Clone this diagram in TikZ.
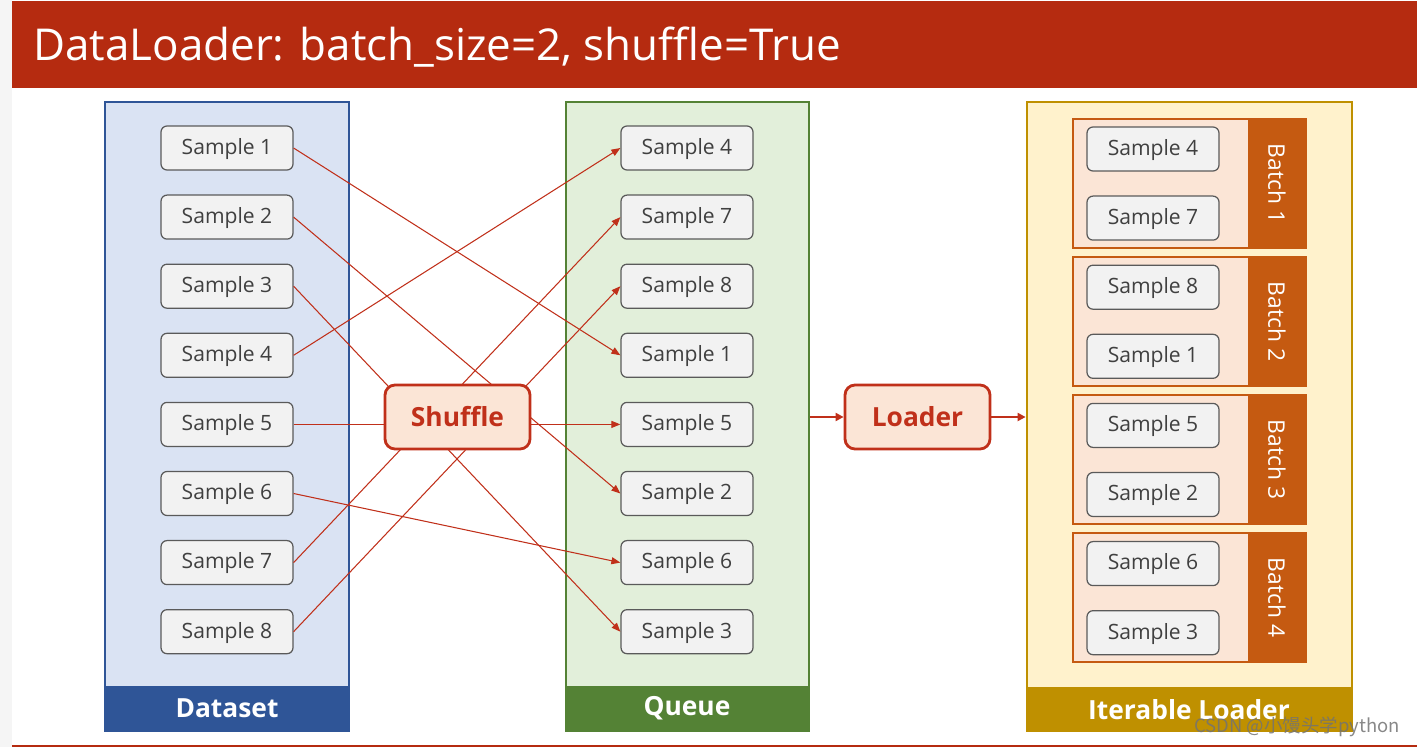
\documentclass[tikz,border=0pt]{standalone}
\usepackage{fontspec}
\setmainfont{Open Sans}
\newfontfamily\cjkfont{Noto Sans CJK SC}
\usetikzlibrary{arrows.meta}
\definecolor{titlered}{HTML}{B52B10}
\definecolor{linkred}{HTML}{C0301A}
\definecolor{opfill}{HTML}{FBE5D6}
\definecolor{dsblue}{HTML}{2F5597}
\definecolor{dsfill}{HTML}{DAE3F3}
\definecolor{qgreen}{HTML}{548235}
\definecolor{qfill}{HTML}{E2EFDA}
\definecolor{itgold}{HTML}{BF9000}
\definecolor{itfill}{HTML}{FFF2CC}
\definecolor{batchorange}{HTML}{C55A11}
\definecolor{samplefill}{HTML}{F2F2F2}
\definecolor{samplegray}{HTML}{5A5A5A}
\definecolor{sampletext}{HTML}{404040}
\tikzset{
    sample/.style={draw=samplegray, fill=samplefill, rounded corners=0.12cm, line width=0.7pt,
      minimum width=2.64cm, minimum height=0.88cm, inner sep=0pt, text=sampletext,
      text height=0.72em, text depth=0pt, font=\fontsize{12}{14}\selectfont},
    link/.style={draw=linkred, line width=0.6pt, -{Triangle[length=1.8mm,width=1.4mm]}},
    flow/.style={draw=linkred, line width=1.2pt, -{Triangle[length=1.6mm,width=1.6mm]}},
    op/.style={draw=linkred, fill=opfill, line width=1.6pt, rounded corners=0.2cm,
      minimum width=2.9cm, minimum height=1.28cm, inner sep=0pt, text=linkred,
      font=\fontsize{15}{18}\selectfont\bfseries},
    container/.style={line width=1.6pt, minimum width=#1, minimum height=12.58cm, inner sep=0pt},
    bandlabel/.style={text=white, font=\fontsize{15}{18}\selectfont\bfseries},
}
\begin{document}
\begin{tikzpicture}[x=0.02cm,y=-0.02cm]
  \useasboundingbox (0,0) rectangle (1417,747);
  %fond et titre
  \fill[black!4] (0,0) rectangle (12,747);
  \fill[titlered] (12,1) rectangle (1417,88);
  \node[anchor=base west, inner sep=0pt, text=white, font=\fontsize{25}{30}\selectfont] (title) at (33,60) {DataLoader: batch\_size=2, shuffle=True};
  \fill[titlered] (12,745) rectangle (1417,747);

  %Dataset
  \node[container=4.88cm, draw=dsblue, fill=dsfill] (dataset) at (227,416.5) {};
  \fill[dsblue] (105,686) rectangle (349,731);
  \node[bandlabel] (dslabel) at (227,708) {Dataset};
  \foreach \i in {1,...,8}
    \node[sample] (d\i) at (227,{148+69.1*(\i-1)}) {Sample \i};

  %Queue
  \node[container=4.86cm, draw=qgreen, fill=qfill] (queue) at (687.5,416.5) {};
  \fill[qgreen] (566,686) rectangle (809,731);
  \node[bandlabel] (qlabel) at (687,708) {Queue};
  \foreach \s [count=\i] in {4,7,8,1,5,2,6,3}
    \node[sample] (q\s) at (687,{148+69.1*(\i-1)}) {Sample \s};

  %liens
  \foreach \i in {1,...,8}
    \draw[link] (d\i.east) -- (q\i.west);
  \node[op] (shuffle) at (457.5,417) {Shuffle};

  %Iterable Loader
  \node[container=6.5cm, draw=itgold, fill=itfill] (iter) at (1189.5,416.5) {};
  \fill[itgold] (1027,687) rectangle (1352,731);
  \node[bandlabel] (itlabel) at (1189,710) {Iterable Loader};
  \foreach \j in {1,...,4}{
    \draw[batchorange, line width=1.3pt, fill=opfill] (1073,{119+138*(\j-1)}) rectangle (1306,{248+138*(\j-1)});
    \fill[batchorange] (1248,{119+138*(\j-1)}) rectangle (1306,{248+138*(\j-1)});
    \node[rotate=-90, text=white, font=\fontsize{13}{15}\selectfont] (batch\j) at (1277,{183.5+138*(\j-1)}) {Batch \j};
  }
  \foreach \s [count=\i] in {4,7,8,1,5,2,6,3}
    \node[sample] (l\s) at (1153,{149+69.1*(\i-1)}) {Sample \s};

  %Loader
  \node[op] (loader) at (917.5,417) {Loader};
  \draw[flow] (queue.east |- loader.west) -- (loader.west);
  \draw[flow] (loader.east) -- (iter.west |- loader.east);

  %filigrane
  \node[text=black!55, opacity=0.85, font=\cjkfont\fontsize{10.5}{12}\selectfont, inner sep=0pt] (mark) at (1297,727) {CSDN @小馒头学python};
\end{tikzpicture}
\end{document}
